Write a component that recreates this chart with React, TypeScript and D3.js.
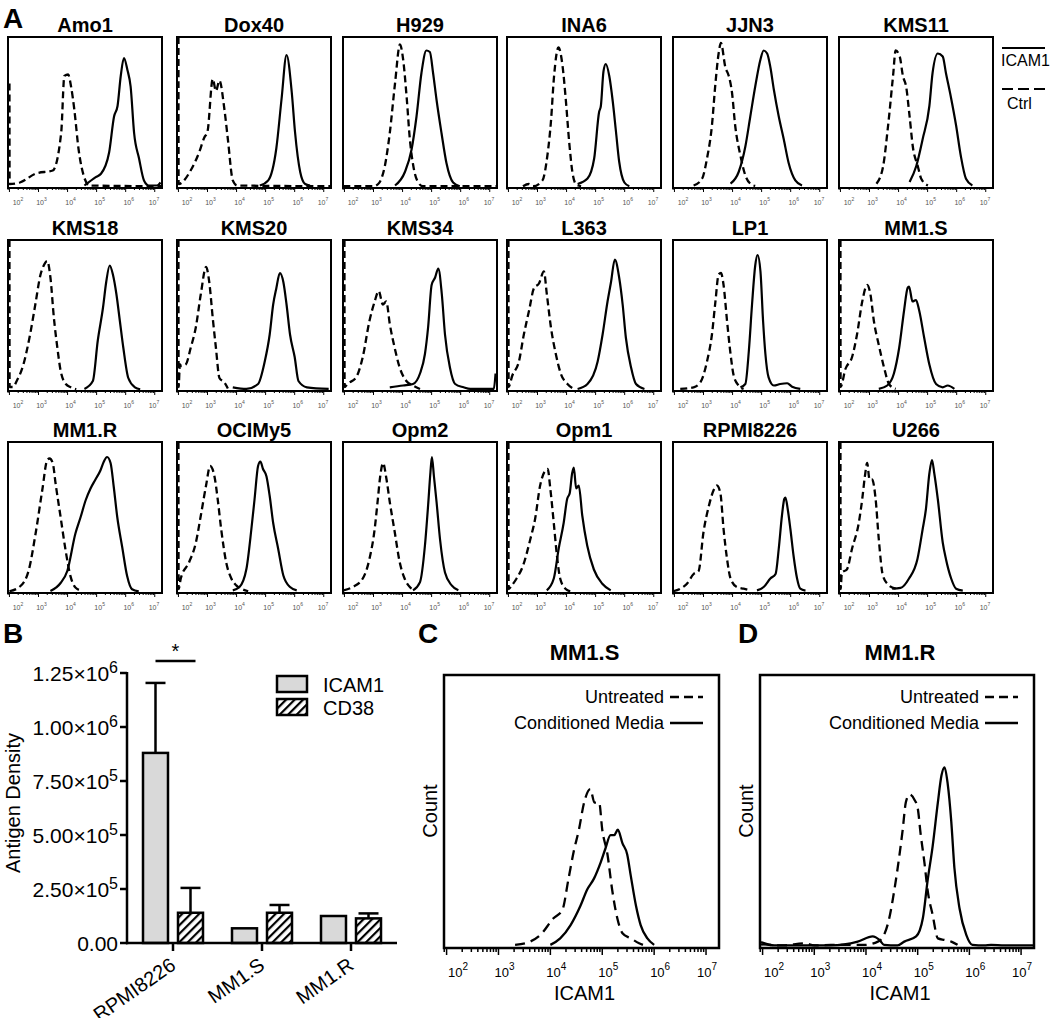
import * as d3 from "d3";
import { useEffect, useRef } from "react";

type Pt = [number, number];

// Panel A histograms: [log10 ICAM1 intensity, count as fraction of plot height]
const amo1Ctrl: Pt[] = [[2.0, 0.69], [2.005, 0.02], [2.36, 0.03], [2.91, 0.09], [3.49, 0.11], [3.78, 0.36], [3.89, 0.74], [4.02, 0.75], [4.12, 0.67], [4.23, 0.52], [4.38, 0.25], [4.6, 0.05], [4.75, 0.01], [7.24, 0.005]];
const amo1Icam: Pt[] = [[4.58, 0.01], [4.97, 0.066], [5.15, 0.088], [5.43, 0.23], [5.6, 0.47], [5.72, 0.54], [5.83, 0.74], [5.94, 0.86], [6.06, 0.78], [6.17, 0.67], [6.29, 0.36], [6.46, 0.19], [6.63, 0.044], [6.8, 0.01], [7.08, 0.01], [7.2, 0.03]];
const dox40Ctrl: Pt[] = [[2.0, 1], [2.005, 0.02], [2.42, 0.11], [2.71, 0.23], [2.89, 0.33], [3.0, 0.37], [3.18, 0.72], [3.29, 0.64], [3.41, 0.71], [3.58, 0.52], [3.7, 0.32], [3.87, 0.044], [4.02, 0.01], [7.24, 0.005]];
const dox40Icam: Pt[] = [[4.8, 0.01], [5.09, 0.044], [5.37, 0.26], [5.55, 0.59], [5.72, 0.88], [5.9, 0.63], [6.01, 0.37], [6.19, 0.1], [6.36, 0.02], [6.53, 0.01]];
const h929Ctrl: Pt[] = [[1.96, 0.005], [3.0, 0.005], [3.16, 0.02], [3.39, 0.14], [3.56, 0.36], [3.74, 0.69], [3.91, 0.95], [4.02, 0.85], [4.14, 0.6], [4.25, 0.32], [4.37, 0.14], [4.51, 0.04], [4.7, 0.005], [7.24, 0.005]];
const h929Icam: Pt[] = [[3.74, 0.01], [4.08, 0.1], [4.31, 0.25], [4.48, 0.47], [4.65, 0.76], [4.82, 0.91], [4.94, 0.9], [5.05, 0.76], [5.17, 0.58], [5.34, 0.36], [5.51, 0.16], [5.74, 0.03], [5.97, 0.005]];
const ina6Ctrl: Pt[] = [[2.5, 0.005], [2.7, 0.02], [2.85, 0.005], [3.17, 0.044], [3.34, 0.21], [3.46, 0.43], [3.57, 0.74], [3.72, 0.93], [3.86, 0.81], [3.97, 0.59], [4.09, 0.3], [4.2, 0.1], [4.32, 0.02], [4.5, 0.005]];
const ina6Icam: Pt[] = [[4.38, 0.02], [4.72, 0.056], [4.95, 0.19], [5.12, 0.5], [5.18, 0.54], [5.27, 0.77], [5.35, 0.82], [5.47, 0.74], [5.59, 0.57], [5.7, 0.37], [5.81, 0.17], [5.99, 0.03], [6.16, 0.005]];
const jjn3Ctrl: Pt[] = [[2.66, 0.01], [2.95, 0.055], [3.12, 0.19], [3.29, 0.41], [3.41, 0.69], [3.52, 0.89], [3.6, 0.96], [3.75, 0.8], [3.87, 0.74], [3.98, 0.63], [4.09, 0.41], [4.27, 0.21], [4.44, 0.077], [4.61, 0.022], [4.78, 0.007]];
const jjn3Icam: Pt[] = [[3.93, 0.022], [4.21, 0.1], [4.44, 0.27], [4.61, 0.47], [4.78, 0.67], [4.96, 0.85], [5.07, 0.91], [5.19, 0.89], [5.3, 0.8], [5.42, 0.65], [5.59, 0.47], [5.76, 0.32], [5.93, 0.16], [6.16, 0.044], [6.39, 0.01]];
const kms11Ctrl: Pt[] = [[3.24, 0.022], [3.47, 0.14], [3.64, 0.41], [3.81, 0.74], [3.9, 0.91], [4.04, 0.87], [4.15, 0.74], [4.26, 0.67], [4.38, 0.47], [4.49, 0.27], [4.66, 0.14], [4.78, 0.055], [5.01, 0.01]];
const kms11Icam: Pt[] = [[4.38, 0.033], [4.61, 0.14], [4.83, 0.32], [5.06, 0.54], [5.17, 0.76], [5.35, 0.89], [5.52, 0.87], [5.63, 0.76], [5.8, 0.6], [5.98, 0.41], [6.14, 0.21], [6.32, 0.055], [6.54, 0.01]];
const kms18Ctrl: Pt[] = [[2.0, 1], [2.005, 0.02], [2.12, 0.02], [2.25, 0.06], [2.48, 0.17], [2.71, 0.37], [2.89, 0.57], [3.07, 0.77], [3.18, 0.83], [3.3, 0.86], [3.41, 0.75], [3.53, 0.48], [3.65, 0.28], [3.76, 0.13], [3.94, 0.04], [4.11, 0.018], [4.3, 0.005]];
const kms18Icam: Pt[] = [[4.58, 0.007], [4.87, 0.06], [5.04, 0.33], [5.22, 0.55], [5.33, 0.72], [5.45, 0.83], [5.56, 0.77], [5.68, 0.64], [5.8, 0.46], [5.92, 0.28], [6.09, 0.08], [6.32, 0.018], [6.5, 0.005]];
const kms20Ctrl: Pt[] = [[2.0, 1], [2.005, 0.02], [2.05, 0.17], [2.1, 0.16], [2.25, 0.17], [2.42, 0.28], [2.6, 0.42], [2.77, 0.64], [2.95, 0.82], [3.06, 0.72], [3.18, 0.48], [3.29, 0.28], [3.41, 0.08], [3.58, 0.05], [3.7, 0.01]];
const kms20Icam: Pt[] = [[3.87, 0.018], [4.34, 0.007], [4.74, 0.04], [4.97, 0.19], [5.14, 0.37], [5.26, 0.57], [5.37, 0.68], [5.49, 0.78], [5.61, 0.72], [5.72, 0.57], [5.84, 0.37], [6.0, 0.22], [6.13, 0.06], [6.42, 0.018], [7.17, 0.007]];
const kms34Ctrl: Pt[] = [[2.0, 1], [2.005, 0.02], [2.1, 0.04], [2.4, 0.084], [2.63, 0.22], [2.86, 0.46], [3.04, 0.59], [3.18, 0.66], [3.32, 0.57], [3.44, 0.59], [3.56, 0.44], [3.73, 0.28], [3.9, 0.15], [4.13, 0.06], [4.36, 0.03], [4.6, 0.007]];
const kms34Icam: Pt[] = [[3.56, 0.018], [4.02, 0.03], [4.36, 0.04], [4.6, 0.11], [4.77, 0.24], [4.88, 0.42], [5.0, 0.7], [5.12, 0.75], [5.23, 0.81], [5.35, 0.64], [5.46, 0.37], [5.63, 0.15], [5.81, 0.04], [6.1, 0.018], [6.33, 0.007], [7.14, 0.007], [7.2, 0.11]];
const l363Ctrl: Pt[] = [[2.0, 1], [2.005, 0.02], [2.13, 0.095], [2.36, 0.19], [2.53, 0.37], [2.71, 0.53], [2.88, 0.68], [3.05, 0.71], [3.22, 0.79], [3.32, 0.64], [3.46, 0.42], [3.63, 0.24], [3.8, 0.11], [4.03, 0.04], [4.26, 0.007]];
const l363Icam: Pt[] = [[4.38, 0.007], [4.72, 0.04], [5.07, 0.19], [5.24, 0.37], [5.41, 0.59], [5.53, 0.72], [5.66, 0.87], [5.81, 0.75], [5.93, 0.57], [6.04, 0.35], [6.22, 0.15], [6.39, 0.04], [6.68, 0.007]];
const lp1Ctrl: Pt[] = [[2.2, 0.007], [2.66, 0.018], [2.89, 0.05], [3.12, 0.19], [3.29, 0.37], [3.41, 0.59], [3.52, 0.77], [3.6, 0.78], [3.69, 0.7], [3.81, 0.46], [3.93, 0.24], [4.04, 0.095], [4.21, 0.03], [4.38, 0.007]];
const lp1Icam: Pt[] = [[4.27, 0.018], [4.44, 0.04], [4.56, 0.26], [4.67, 0.57], [4.78, 0.83], [4.86, 0.9], [4.96, 0.79], [5.05, 0.46], [5.13, 0.24], [5.24, 0.084], [5.42, 0.03], [5.64, 0.04], [5.88, 0.045], [6.05, 0.022], [6.33, 0.007]];
const mm1sCtrl: Pt[] = [[2.0, 1], [2.005, 0.02], [2.17, 0.14], [2.4, 0.22], [2.57, 0.37], [2.75, 0.59], [2.92, 0.7], [3.03, 0.64], [3.15, 0.46], [3.32, 0.3], [3.5, 0.15], [3.67, 0.04], [3.9, 0.007]];
const mm1sIcam: Pt[] = [[3.32, 0.007], [3.61, 0.03], [3.84, 0.11], [4.02, 0.28], [4.19, 0.53], [4.31, 0.68], [4.36, 0.69], [4.48, 0.59], [4.6, 0.6], [4.71, 0.53], [4.88, 0.35], [5.06, 0.17], [5.29, 0.04], [5.52, 0.018], [5.69, 0.03], [5.92, 0.007]];
const mm1rCtrl: Pt[] = [[2.0, 0.005], [2.38, 0.04], [2.67, 0.15], [2.9, 0.39], [3.13, 0.68], [3.3, 0.88], [3.38, 0.89], [3.49, 0.86], [3.59, 0.72], [3.76, 0.5], [3.93, 0.28], [4.1, 0.106], [4.27, 0.03], [4.51, 0.007]];
const mm1rIcam: Pt[] = [[3.41, 0.007], [3.76, 0.06], [3.99, 0.14], [4.27, 0.39], [4.45, 0.5], [4.62, 0.61], [4.79, 0.69], [4.96, 0.75], [5.13, 0.81], [5.25, 0.87], [5.36, 0.9], [5.48, 0.86], [5.59, 0.7], [5.71, 0.5], [5.88, 0.3], [6.05, 0.106], [6.22, 0.018], [6.45, 0.004]];
const ocimy5Ctrl: Pt[] = [[2.0, 1], [2.005, 0.02], [2.08, 0.09], [2.37, 0.2], [2.6, 0.33], [2.77, 0.51], [2.95, 0.71], [3.09, 0.84], [3.24, 0.77], [3.35, 0.62], [3.47, 0.42], [3.64, 0.2], [3.82, 0.09], [3.99, 0.044], [4.16, 0.022], [4.4, 0.005]];
const ocimy5Icam: Pt[] = [[3.87, 0.011], [4.1, 0.033], [4.34, 0.155], [4.51, 0.42], [4.62, 0.62], [4.74, 0.84], [4.82, 0.87], [4.91, 0.82], [5.03, 0.77], [5.14, 0.64], [5.26, 0.46], [5.43, 0.29], [5.61, 0.11], [5.84, 0.033], [6.07, 0.011]];
const opm2Ctrl: Pt[] = [[1.97, 0.011], [2.28, 0.033], [2.63, 0.09], [2.86, 0.22], [3.04, 0.42], [3.15, 0.62], [3.23, 0.77], [3.33, 0.86], [3.44, 0.76], [3.56, 0.6], [3.73, 0.4], [3.9, 0.2], [4.07, 0.09], [4.25, 0.033], [4.42, 0.011]];
const opm2Icam: Pt[] = [[4.36, 0.011], [4.6, 0.066], [4.77, 0.31], [4.88, 0.58], [4.96, 0.8], [5.01, 0.9], [5.08, 0.77], [5.17, 0.6], [5.29, 0.35], [5.46, 0.13], [5.69, 0.044], [5.92, 0.011]];
const opm1Ctrl: Pt[] = [[2.0, 1], [2.005, 0.02], [2.1, 0.04], [2.28, 0.09], [2.51, 0.18], [2.75, 0.35], [2.92, 0.49], [3.09, 0.71], [3.27, 0.81], [3.35, 0.82], [3.44, 0.69], [3.56, 0.46], [3.67, 0.24], [3.78, 0.09], [3.96, 0.022], [4.13, 0.004]];
const opm1Icam: Pt[] = [[3.32, 0.011], [3.56, 0.09], [3.73, 0.29], [3.9, 0.46], [4.02, 0.62], [4.11, 0.66], [4.19, 0.79], [4.25, 0.83], [4.33, 0.69], [4.42, 0.71], [4.54, 0.51], [4.71, 0.31], [4.94, 0.15], [5.23, 0.055], [5.52, 0.011]];
const rpmiCtrl: Pt[] = [[1.96, 0.005], [2.2, 0.022], [2.43, 0.055], [2.66, 0.12], [2.83, 0.14], [3.0, 0.4], [3.18, 0.57], [3.35, 0.68], [3.46, 0.71], [3.58, 0.66], [3.69, 0.42], [3.81, 0.22], [3.93, 0.09], [4.15, 0.033], [4.38, 0.022], [4.61, 0.011]];
const rpmiIcam: Pt[] = [[4.84, 0.011], [5.07, 0.033], [5.3, 0.09], [5.48, 0.12], [5.59, 0.29], [5.7, 0.51], [5.78, 0.62], [5.82, 0.63], [5.9, 0.55], [5.99, 0.42], [6.1, 0.24], [6.22, 0.09], [6.33, 0.022], [6.51, 0.009]];
const u266Ctrl: Pt[] = [[2.0, 1], [2.005, 0.02], [2.05, 0.13], [2.22, 0.15], [2.4, 0.29], [2.63, 0.46], [2.75, 0.62], [2.84, 0.77], [2.92, 0.86], [3.0, 0.75], [3.09, 0.75], [3.21, 0.62], [3.32, 0.35], [3.46, 0.11], [3.67, 0.044], [3.9, 0.022]];
const u266Icam: Pt[] = [[3.78, 0.022], [4.07, 0.027], [4.36, 0.09], [4.65, 0.22], [4.83, 0.42], [4.94, 0.55], [5.06, 0.79], [5.15, 0.88], [5.23, 0.79], [5.35, 0.62], [5.52, 0.33], [5.63, 0.22], [5.81, 0.09], [5.98, 0.022], [6.21, 0.009]];

const cellLines = ["Amo1", "Dox40", "H929", "INA6", "JJN3", "KMS11", "KMS18", "KMS20", "KMS34", "L363", "LP1", "MM1.S", "MM1.R", "OCIMy5", "Opm2", "Opm1", "RPMI8226", "U266"];
const ctrlCurves = [amo1Ctrl, dox40Ctrl, h929Ctrl, ina6Ctrl, jjn3Ctrl, kms11Ctrl, kms18Ctrl, kms20Ctrl, kms34Ctrl, l363Ctrl, lp1Ctrl, mm1sCtrl, mm1rCtrl, ocimy5Ctrl, opm2Ctrl, opm1Ctrl, rpmiCtrl, u266Ctrl];
const icamCurves = [amo1Icam, dox40Icam, h929Icam, ina6Icam, jjn3Icam, kms11Icam, kms18Icam, kms20Icam, kms34Icam, l363Icam, lp1Icam, mm1sIcam, mm1rIcam, ocimy5Icam, opm2Icam, opm1Icam, rpmiIcam, u266Icam];
const decades = [2, 3, 4, 5, 6, 7];

// Panel B
const bCategories = ["RPMI8226", "MM1.S", "MM1.R"];
const bSeries = ["ICAM1", "CD38"];
const icamDensity = [880000, 68000, 125000];
const icamErr = [324000, 0, 0];
const cd38Density = [140000, 140000, 114000];
const cd38Err = [115000, 36000, 23000];
const bTicks = [0, 250000, 500000, 750000, 1000000, 1250000];

// Panels C and D
const mm1sUntreated: Pt[] = [[3.32, 0.006], [3.61, 0.018], [3.81, 0.043], [4.06, 0.104], [4.23, 0.134], [4.35, 0.25], [4.45, 0.35], [4.55, 0.43], [4.65, 0.53], [4.77, 0.58], [4.85, 0.53], [4.94, 0.53], [5.0, 0.43], [5.1, 0.34], [5.19, 0.21], [5.29, 0.104], [5.39, 0.049], [5.55, 0.03], [5.71, 0.012], [5.81, 0.004]];
const mm1sConditioned: Pt[] = [[4.0, 0.006], [4.19, 0.03], [4.39, 0.079], [4.58, 0.15], [4.71, 0.21], [4.84, 0.25], [4.97, 0.31], [5.06, 0.36], [5.16, 0.41], [5.23, 0.41], [5.3, 0.43], [5.39, 0.38], [5.48, 0.34], [5.55, 0.26], [5.65, 0.15], [5.74, 0.079], [5.87, 0.03], [6.0, 0.006]];
const mm1rUntreated: Pt[] = [[1.97, 0.008], [2.4, 0.004], [2.81, 0.012], [3.0, 0.004], [3.32, 0.006], [3.97, 0.006], [4.23, 0.018], [4.35, 0.043], [4.45, 0.104], [4.55, 0.21], [4.65, 0.34], [4.71, 0.43], [4.77, 0.53], [4.84, 0.56], [4.94, 0.54], [5.0, 0.51], [5.06, 0.41], [5.13, 0.31], [5.19, 0.21], [5.29, 0.116], [5.39, 0.03], [5.52, 0.024], [5.65, 0.018], [5.77, 0.006]];
const mm1rConditioned: Pt[] = [[1.97, 0.016], [2.23, 0.004], [3.32, 0.004], [3.84, 0.018], [4.13, 0.037], [4.26, 0.024], [4.35, 0.006], [4.61, 0.004], [4.74, 0.018], [4.97, 0.037], [5.1, 0.104], [5.19, 0.24], [5.29, 0.37], [5.39, 0.53], [5.46, 0.63], [5.52, 0.66], [5.58, 0.6], [5.65, 0.46], [5.71, 0.29], [5.81, 0.14], [5.94, 0.043], [6.06, 0.006], [6.29, 0.004], [6.42, 0.006], [6.68, 0.004], [7.25, 0.004]];

const FONT = "Arial, 'Liberation Sans', sans-serif";

const isDecade = (v: number) => Math.abs(Math.log10(v) - Math.round(Math.log10(v))) < 1e-6;

const App = () => {
  const svgRef = useRef(null);
  const width = 1050;
  const height = 1018;

  useEffect(() => {
    const svg = d3.select(svgRef.current);
    svg.selectAll("*").remove();

    const pat = svg
      .append("defs")
      .append("pattern")
      .attr("id", "hatch")
      .attr("patternUnits", "userSpaceOnUse")
      .attr("width", 6)
      .attr("height", 6)
      .attr("patternTransform", "rotate(45)");
    pat.append("rect").attr("width", 6).attr("height", 6).attr("fill", "#fff");
    pat.append("rect").attr("width", 2.2).attr("height", 6).attr("fill", "#000");

    const logDomain = [10 ** 1.95, 10 ** 7.25];

    const letter = (t: string, x: number, y: number) =>
      svg
        .append("text")
        .attr("x", x)
        .attr("y", y)
        .attr("font-family", FONT)
        .attr("font-weight", "bold")
        .attr("font-size", 28)
        .text(t);

    // ---------- A ----------
    letter("A", 3, 28);
    const colX = [8, 177, 343, 507, 673, 839];
    const rowY = [37, 240, 442];
    const bw = 154;
    const bh = 151;

    cellLines.forEach((name, i) => {
      const left = colX[i % 6];
      const top = rowY[Math.floor(i / 6)];
      const right = left + bw;
      const bottom = top + bh;
      const x = d3.scaleLog().domain(logDomain).range([left, right]);
      const y = d3.scaleLinear().domain([0, 1]).range([bottom - 1, top]);
      const g = svg.append("g");

      g.append("text")
        .attr("x", (left + right) / 2)
        .attr("y", top - 5)
        .attr("text-anchor", "middle")
        .attr("font-family", FONT)
        .attr("font-weight", "bold")
        .attr("font-size", 20)
        .text(name);

      g.selectAll("line.tick")
        .data(x.ticks())
        .join("line")
        .attr("class", "tick")
        .attr("x1", (d) => x(d))
        .attr("x2", (d) => x(d))
        .attr("y1", bottom)
        .attr("y2", (d) => bottom + (isDecade(d) ? 4 : 2))
        .attr("stroke", "#000")
        .attr("stroke-width", 1);

      decades.forEach((k) => {
        const cx = Math.min(right - 8, Math.max(left + 10, x(10 ** k) + 3));
        const t = g
          .append("text")
          .attr("x", cx)
          .attr("y", bottom + 17)
          .attr("text-anchor", "middle")
          .attr("font-family", FONT)
          .attr("font-size", 7)
          .attr("fill", "#555");
        t.append("tspan").text("10");
        t.append("tspan").attr("dy", -4).attr("font-size", 5).text(k);
      });

      g.append("rect")
        .attr("x", left)
        .attr("y", top)
        .attr("width", bw)
        .attr("height", bh)
        .attr("fill", "none")
        .attr("stroke", "#000")
        .attr("stroke-width", 2);

      const line = d3
        .line<Pt>()
        .x((d) => x(10 ** d[0]))
        .y((d) => y(d[1]))
        .curve(d3.curveMonotoneX);

      g.append("path")
        .datum(ctrlCurves[i])
        .attr("d", line)
        .attr("fill", "none")
        .attr("stroke", "#000")
        .attr("stroke-width", 2.3)
        .attr("stroke-dasharray", "7,4");

      g.append("path")
        .datum(icamCurves[i])
        .attr("d", line)
        .attr("fill", "none")
        .attr("stroke", "#000")
        .attr("stroke-width", 2.2)
        .attr("stroke-linejoin", "round");
    });

    // legend for A
    svg.append("line").attr("x1", 1002).attr("x2", 1045).attr("y1", 48).attr("y2", 48).attr("stroke", "#000").attr("stroke-width", 2);
    svg.append("text").attr("x", 1001).attr("y", 66).attr("font-family", FONT).attr("font-size", 16).text("ICAM1");
    svg.append("line").attr("x1", 1002).attr("x2", 1045).attr("y1", 89).attr("y2", 89).attr("stroke", "#000").attr("stroke-width", 2).attr("stroke-dasharray", "11,5");
    svg.append("text").attr("x", 1007).attr("y", 109).attr("font-family", FONT).attr("font-size", 16).text("Ctrl");

    // ---------- B ----------
    letter("B", 3, 643);
    const bx = d3.scaleBand().domain(bCategories).range([128.5, 395.5]);
    const bInner = d3.scaleBand().domain(bSeries).range([-30, 30]).paddingInner(0.286);
    const by = d3.scaleLinear().domain([0, 1250000]).range([943, 673]);
    const bg = svg.append("g");

    const seriesVals = [icamDensity, cd38Density];
    const seriesErr = [icamErr, cd38Err];
    const fills = ["#d9d9d9", "url(#hatch)"];

    bCategories.forEach((c, ci) => {
      const cx = (bx(c) as number) + bx.bandwidth() / 2;
      bSeries.forEach((s, si) => {
        const v = seriesVals[si][ci];
        const e = seriesErr[si][ci];
        const x0 = cx + (bInner(s) as number);
        const mid = x0 + bInner.bandwidth() / 2;
        if (e > 0) {
          bg.append("line").attr("x1", mid).attr("x2", mid).attr("y1", by(v)).attr("y2", by(v + e)).attr("stroke", "#000").attr("stroke-width", 2.5);
          bg.append("line").attr("x1", mid - 10).attr("x2", mid + 10).attr("y1", by(v + e)).attr("y2", by(v + e)).attr("stroke", "#000").attr("stroke-width", 2.5);
        }
        bg.append("rect")
          .attr("x", x0)
          .attr("y", by(v))
          .attr("width", bInner.bandwidth())
          .attr("height", by(0) - by(v))
          .attr("fill", fills[si])
          .attr("stroke", "#000")
          .attr("stroke-width", 2.5);
      });
    });

    // axes
    bg.append("line").attr("x1", 127).attr("x2", 127).attr("y1", by(1250000) - 1).attr("y2", by(0) + 1.2).attr("stroke", "#000").attr("stroke-width", 2.5);
    bg.append("line").attr("x1", 126).attr("x2", 397).attr("y1", by(0)).attr("y2", by(0)).attr("stroke", "#000").attr("stroke-width", 2.5);
    bTicks.forEach((t) => {
      bg.append("line").attr("x1", 120).attr("x2", 127).attr("y1", by(t)).attr("y2", by(t)).attr("stroke", "#000").attr("stroke-width", 2.5);
      const txt = bg
        .append("text")
        .attr("x", 118)
        .attr("y", by(t) + 7.5)
        .attr("text-anchor", "end")
        .attr("font-family", FONT)
        .attr("font-size", 21);
      if (t === 0) {
        txt.text("0.00");
      } else {
        const e = Math.floor(Math.log10(t));
        txt.append("tspan").text((t / 10 ** e).toFixed(2) + "×10");
        txt.append("tspan").attr("dy", -8).attr("font-size", 16).text(e);
      }
    });
    bCategories.forEach((c) => {
      const cx = (bx(c) as number) + bx.bandwidth() / 2;
      bg.append("line").attr("x1", cx).attr("x2", cx).attr("y1", by(0)).attr("y2", by(0) + 8).attr("stroke", "#000").attr("stroke-width", 2.5);
      bg.append("text")
        .attr("transform", `translate(${cx + 4},${968}) rotate(-35)`)
        .attr("text-anchor", "end")
        .attr("font-family", FONT)
        .attr("font-size", 20)
        .text(c);
    });
    bg.append("text")
      .attr("transform", "translate(20,803) rotate(-90)")
      .attr("text-anchor", "middle")
      .attr("font-family", FONT)
      .attr("font-size", 20)
      .text("Antigen Density");

    // significance
    const sigC = (bx("RPMI8226") as number) + bx.bandwidth() / 2;
    const sx1 = sigC + (bInner("ICAM1") as number) + bInner.bandwidth() / 2;
    const sx2 = sigC + (bInner("CD38") as number) + bInner.bandwidth() / 2 + 5;
    bg.append("line").attr("x1", sx1).attr("x2", sx2).attr("y1", 661).attr("y2", 661).attr("stroke", "#000").attr("stroke-width", 2.5);
    bg.append("text").attr("x", (sx1 + sx2) / 2).attr("y", 658).attr("text-anchor", "middle").attr("font-family", FONT).attr("font-size", 20).text("*");

    // legend
    bSeries.forEach((s, si) => {
      const ly = 676 + si * 23;
      bg.append("rect").attr("x", 277).attr("y", ly).attr("width", 30).attr("height", 16).attr("fill", fills[si]).attr("stroke", "#000").attr("stroke-width", 2.5);
      bg.append("text").attr("x", 323).attr("y", ly + 16).attr("font-family", FONT).attr("font-size", 20).text(s);
    });

    // ---------- C / D ----------
    const flow = (left: number, right: number, title: string, untreated: Pt[], conditioned: Pt[]) => {
      const top = 675;
      const bottom = 948;
      const x = d3.scaleLog().domain(logDomain).range([left, right]);
      const y = d3.scaleLinear().domain([0, 1]).range([bottom - 1.5, top]);
      const g = svg.append("g");
      const mid = (left + right) / 2;

      g.append("text").attr("x", mid + 3).attr("y", 660).attr("text-anchor", "middle").attr("font-family", FONT).attr("font-weight", "bold").attr("font-size", 22).text(title);
      g.append("text").attr("x", mid + 3).attr("y", 1000).attr("text-anchor", "middle").attr("font-family", FONT).attr("font-size", 20).text("ICAM1");
      g.append("text")
        .attr("transform", `translate(${left - 7},${811}) rotate(-90)`)
        .attr("text-anchor", "middle")
        .attr("font-family", FONT)
        .attr("font-size", 20)
        .text("Count");

      g.selectAll("line.tick")
        .data(x.ticks())
        .join("line")
        .attr("class", "tick")
        .attr("x1", (d) => x(d))
        .attr("x2", (d) => x(d))
        .attr("y1", bottom)
        .attr("y2", (d) => bottom + (isDecade(d) ? 7 : 4))
        .attr("stroke", "#000")
        .attr("stroke-width", 1.5);

      decades.forEach((k) => {
        const cx = Math.min(right - 12, Math.max(left + 14, x(10 ** k) + 6));
        const t = g.append("text").attr("x", cx).attr("y", 977).attr("text-anchor", "middle").attr("font-family", FONT).attr("font-size", 13);
        t.append("tspan").text("10");
        t.append("tspan").attr("dy", -7).attr("font-size", 10).text(k);
      });

      g.append("rect")
        .attr("x", left)
        .attr("y", top)
        .attr("width", right - left)
        .attr("height", bottom - top)
        .attr("fill", "none")
        .attr("stroke", "#000")
        .attr("stroke-width", 2.5);

      const line = d3
        .line<Pt>()
        .x((d) => x(10 ** d[0]))
        .y((d) => y(d[1]))
        .curve(d3.curveMonotoneX);
      g.append("path").datum(untreated).attr("d", line).attr("fill", "none").attr("stroke", "#000").attr("stroke-width", 2.3).attr("stroke-dasharray", "10,6");
      g.append("path").datum(conditioned).attr("d", line).attr("fill", "none").attr("stroke", "#000").attr("stroke-width", 2.3).attr("stroke-linejoin", "round");

      // legend
      const lx2 = right - 16;
      const lx1 = lx2 - 33;
      const labels = ["Untreated", "Conditioned Media"];
      labels.forEach((lab, li) => {
        const ly = 697 + li * 26;
        g.append("text").attr("x", lx1 - 6).attr("y", ly + 6).attr("text-anchor", "end").attr("font-family", FONT).attr("font-size", 18).text(lab);
        g.append("line")
          .attr("x1", lx1)
          .attr("x2", lx2)
          .attr("y1", ly)
          .attr("y2", ly)
          .attr("stroke", "#000")
          .attr("stroke-width", 2.3)
          .attr("stroke-dasharray", li === 0 ? "9,5" : null);
      });
    };

    letter("C", 418, 643);
    flow(444, 719, "MM1.S", mm1sUntreated, mm1sConditioned);
    letter("D", 738, 643);
    flow(760, 1034, "MM1.R", mm1rUntreated, mm1rConditioned);
  }, []);

  return (
    <svg
      ref={svgRef}
      width={width}
      height={height}
      style={{ position: "absolute", left: 0, top: 0, background: "#fff" }}
    />
  );
};

export default App;
